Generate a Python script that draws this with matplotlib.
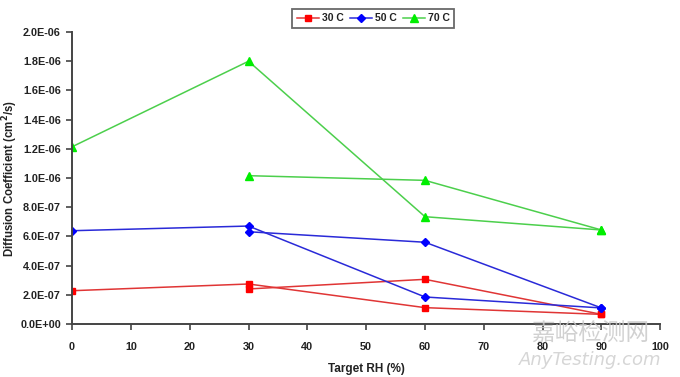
import matplotlib
matplotlib.use("Agg")
import matplotlib.pyplot as plt
from matplotlib.ticker import FuncFormatter

# Target RH (%) and diffusion coefficients (cm^2/s); two runs per temperature
rh_a = [0, 30, 60, 90]
rh_b = [30, 60, 90]

d30_a = [2.28e-7, 2.74e-7, 1.12e-7, 0.66e-7]
d30_b = [2.40e-7, 3.06e-7, 0.66e-7]
d50_a = [6.39e-7, 6.71e-7, 1.85e-7, 1.10e-7]
d50_b = [6.32e-7, 5.60e-7, 1.10e-7]
d70_a = [1.214e-6, 1.80e-6, 0.735e-6, 0.644e-6]
d70_b = [1.016e-6, 0.984e-6, 0.644e-6]

labels = ["30 C", "50 C", "70 C"]
line_colors = ["#e03535", "#2a2ad8", "#4ccf4c"]
marker_colors = ["#ff0000", "#0000ff", "#00ee00"]
markers = ["s", "D", "^"]
msizes = [5, 4, 6]

plt.rcParams["font.family"] = ["Liberation Sans", "DejaVu Sans"]

fig = plt.figure(figsize=(6.8, 3.77), dpi=100)
ax = fig.add_axes([0.106, 0.1406, 0.865, 0.7744])

series = [(d30_a, d30_b), (d50_a, d50_b), (d70_a, d70_b)]
handles = []
for i, (ya, yb) in enumerate(series):
    h, = ax.plot(rh_a, ya, color=line_colors[i], lw=1.1, marker=markers[i],
                 ms=msizes[i], mfc=marker_colors[i], mec=marker_colors[i],
                 label=labels[i])
    ax.plot(rh_b, yb, color=line_colors[i], lw=1.1, marker=markers[i],
            ms=msizes[i], mfc=marker_colors[i], mec=marker_colors[i])
    handles.append(h)

ax.set_xlim(0, 100)
ax.set_ylim(0, 2.0e-6)
ax.set_xticks(range(0, 101, 10))
ax.set_yticks([i * 2e-7 for i in range(11)])


def sci_fmt(v, pos):
    if v == 0:
        return "0.0E+00"
    return "%.1E" % v


ax.yaxis.set_major_formatter(FuncFormatter(sci_fmt))

for s in ["top", "right"]:
    ax.spines[s].set_visible(False)
for s in ["left", "bottom"]:
    ax.spines[s].set_color("#444444")
    ax.spines[s].set_linewidth(1.4)

ax.tick_params(axis="both", direction="out", length=4, width=1.2,
               color="#444444", labelsize=7.8, labelcolor="#222222")
ax.tick_params(axis="x", pad=9)
ax.tick_params(axis="y", pad=4)
for lab in ax.get_xticklabels() + ax.get_yticklabels():
    lab.set_fontweight("bold")

ax.set_ylabel("Diffusion Coefficient (cm$^{\\mathbf{2}}$/s)", fontsize=8.3,
              fontweight="bold", color="#222222")
ax.yaxis.set_label_coords(-0.089, 0.5)
ax.set_xlabel("Target RH (%)", fontsize=8.5, fontweight="bold",
              color="#222222", labelpad=8)

leg = fig.legend(handles=handles, loc="center", ncol=3,
                 bbox_to_anchor=(0.5485, 0.951), fontsize=7.5,
                 frameon=True, fancybox=False, handlelength=2.2,
                 handletextpad=0.2, columnspacing=0.6, borderpad=0.4,
                 borderaxespad=0)
leg.get_frame().set_edgecolor("#444444")
leg.get_frame().set_linewidth(1.3)
for t in leg.get_texts():
    t.set_fontweight("bold")
    t.set_color("#222222")

# watermark
fig.text(0.868, 0.113, "嘉峪检测网", fontsize=17, color="#c9c9c9",
         family=["Noto Sans CJK SC", "DejaVu Sans"], ha="center", va="center",
         alpha=0.85)
fig.text(0.868, 0.045, "AnyTesting.com", fontsize=13, color="#cfcfcf",
         style="italic", ha="center", va="center", alpha=0.85,
         family=["DejaVu Sans"])

fig.savefig("out.png", dpi=100)
